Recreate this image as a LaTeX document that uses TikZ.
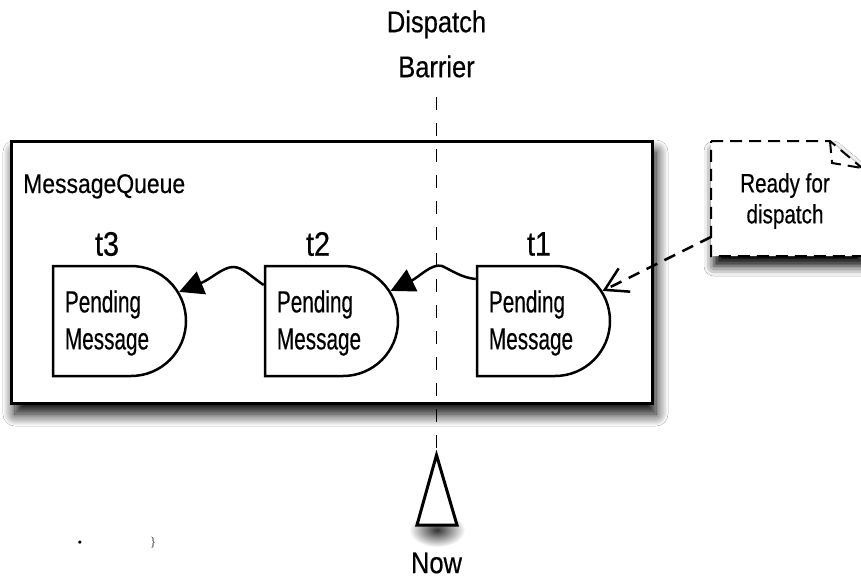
\documentclass[tikz,border=0pt]{standalone}
\usepackage{fontspec}
\newfontfamily\labelfont{Liberation Sans}[FakeStretch=0.85,FakeBold=0.4]
\newfontfamily\pendfont{Liberation Sans}[FakeStretch=0.68,FakeBold=0.4]
\newfontfamily\notefont{Liberation Sans}[FakeStretch=0.78,FakeBold=0.4]
\usetikzlibrary{shapes.misc,shadows.blur,arrows.meta,calc}

\tikzset{
  queuebox/.style={rectangle, draw, line width=3pt, fill=white,
    minimum width=641pt, minimum height=262pt, inner sep=0pt,
    blur shadow={shadow xshift=4pt, shadow yshift=-11pt,
      shadow blur radius=12pt, shadow blur steps=12, shadow opacity=100}},
  pending/.style={rounded rectangle, rounded rectangle west arc=none,
    draw, line width=2.5pt, fill=white,
    minimum width=133pt, minimum height=110pt, inner sep=0pt},
  pendtext/.style={font=\pendfont\fontsize{30.5}{37}\selectfont,
    align=left, inner sep=0pt, anchor=west},
  tlabel/.style={font=\labelfont\fontsize{34}{34}\selectfont, inner sep=0pt},
  bigtext/.style={font=\labelfont\fontsize{30}{45}\selectfont,
    align=center, inner sep=0pt},
  notetext/.style={font=\notefont\fontsize{26.5}{31}\selectfont,
    align=center, inner sep=0pt},
  link/.style={line width=2.5pt, -{Triangle[length=24pt,width=24pt]}},
  readylink/.style={line width=2.5pt, dash pattern=on 12pt off 8pt,
    -{Straight Barb[length=22pt,width=26pt,line width=2.5pt]}},
  barrierline/.style={line width=1.6pt, dash pattern=on 13pt off 13pt},
  noteline/.style={line width=2pt, dash pattern=on 12pt off 7pt},
  nowtri/.style={draw, line width=3pt, fill=white, line join=miter},
  tiny/.style={inner sep=0pt}
}

\begin{document}
\begin{tikzpicture}[x=1pt, y=-1pt]
  \useasboundingbox (0,0) rectangle (861,581);
  \fill[white] (0,0) rectangle (861,581);

  % queue container
  \node[queuebox] (queue) at (331.5,272) {};
  \node[font=\labelfont\fontsize{27}{27}\selectfont, inner sep=0pt,
        anchor=base west] (qname) at (23,193) {MessageQueue};

  % dispatch barrier
  \node[bigtext] (barlabel) at (436.5,44) {Dispatch\\Barrier};
  \coordinate (bartop) at (436.5,97);
  \coordinate (apex) at (436.5,455);
  \coordinate (triL) at (417,525);
  \coordinate (triR) at (457,525);
  \draw[barrierline] (bartop) -- (apex);

  % pending messages
  \node[pending] (t3) at (119.5,321) {};
  \node[pending] (t2) at (331.5,321) {};
  \node[pending] (t1) at (543.5,321) {};
  \node[pendtext] (t3txt) at ([xshift=13pt,yshift=-2pt]t3.west) {Pending\\Message};
  \node[pendtext] (t2txt) at ([xshift=13pt,yshift=-2pt]t2.west) {Pending\\Message};
  \node[pendtext] (t1txt) at ([xshift=13pt,yshift=-2pt]t1.west) {Pending\\Message};
  \node[tlabel] (t3lab) at (107,244) {t3};
  \node[tlabel] (t2lab) at (318,244) {t2};
  \node[tlabel] (t1lab) at (539,244) {t1};

  % links between messages
  \coordinate (s2) at ([yshift=36pt]t2.west);
  \coordinate (s1) at ([yshift=42pt]t1.west);
  \draw[link] (s2) .. controls (250,276) and (243,267) .. (233,267)
              .. controls (223,267) and (211,279) .. (t3.26);
  \draw[link] (s1) .. controls (462,278) and (451,270) .. (442,266)
              .. controls (432,263) and (419,277) .. (t2.27);

  % note with folded corner
  \coordinate (nTL) at (711,141);
  \coordinate (nFold) at (830,141);
  \coordinate (nFoldIn) at (832,163);
  \coordinate (nTR) at (862,168);
  \coordinate (nBR) at (862,256);
  \coordinate (nBL) at (711,256);
  \fill[white, blur shadow={shadow xshift=3pt, shadow yshift=-10pt,
      shadow blur radius=10pt, shadow opacity=100}]
    (nTL) -- (nFold) -- (nTR) -- (nBR) -- (nBL) -- cycle;
  \draw[noteline] (nTL) -- (nFold) -- (nTR) -- (nBR) -- (nBL) -- cycle;
  \draw[noteline] (nFold) -- (nFoldIn) -- (nTR);
  \node[notetext] (ready) at (785,201) {Ready for\\dispatch};
  \coordinate (noteL) at (711,237);
  \draw[readylink] (noteL) -- (t1.27);

  % now marker with its soft shadow
  \shade[inner color=black!80, outer color=white]
    (437,530) ellipse [x radius=28pt, y radius=17pt];
  \filldraw[nowtri] (apex) -- (triL) -- (triR) -- cycle;
  \node[bigtext] (now) at (436.5,563) {Now};

  % stray marks
  \node[tiny, font=\fontsize{12}{12}\selectfont] (dot) at (80,543) {\textbullet};
  \node[tiny, font=\fontsize{11}{11}\selectfont] (brace) at (153,543) {\}};
\end{tikzpicture}
\end{document}
